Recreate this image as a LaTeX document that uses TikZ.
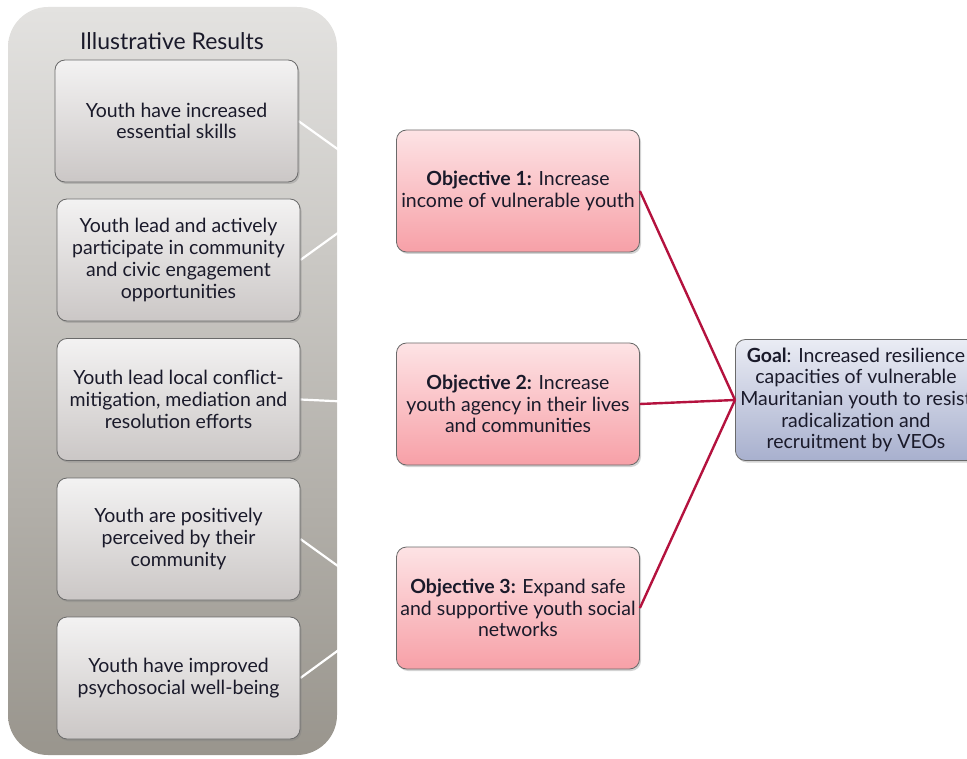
\documentclass[tikz,border=0pt]{standalone}
\usepackage{fontspec}
\setmainfont{Lato}
\usetikzlibrary{shadows,backgrounds}
\definecolor{panelTop}{HTML}{E3E2E0}
\definecolor{panelBot}{HTML}{99958D}
\definecolor{resTop}{HTML}{F3F2F2}
\definecolor{resBot}{HTML}{CBC7C6}
\definecolor{objTop}{HTML}{FDE3E5}
\definecolor{objBot}{HTML}{F7A0A7}
\definecolor{goalTop}{HTML}{EAECF4}
\definecolor{goalBot}{HTML}{A8B0CE}
\definecolor{edgeGray}{HTML}{6A6A6A}
\definecolor{linkRed}{HTML}{B4123E}
\definecolor{txt}{HTML}{1A1A2A}
\begin{document}
\begin{tikzpicture}[x=1pt,y=-1pt,
  box/.style={draw=edgeGray, line width=0.8pt, rounded corners=10pt,
    minimum width=243pt, minimum height=122pt, inner sep=3pt, align=center,
    text=txt, font=\fontsize{19.5}{21.7}\selectfont,
    drop shadow={shadow xshift=1.5pt, shadow yshift=-2pt, opacity=0.35}},
  result/.style={box, top color=resTop, bottom color=resBot},
  objective/.style={box, top color=objTop, bottom color=objBot},
  goalbox/.style={box, minimum width=240pt, minimum height=121pt, inner sep=5pt, top color=goalTop, bottom color=goalBot},
  whiteline/.style={draw=white, line width=2.2pt},
  redline/.style={draw=linkRed, line width=2.4pt}]
\useasboundingbox (0,0) rectangle (967,759);
\node[font=\fontsize{23}{26}\selectfont, text=txt] (title) at (172,41) {Illustrative Results};
\node[result] (r1) at (176.5,121) {Youth have increased\\essential skills};
\node[result] (r2) at (178.5,260) {Youth lead and actively\\participate in community\\and civic engagement\\opportunities};
\node[result] (r3) at (178.5,399.5) {Youth lead local conflict-\\mitigation, mediation and\\resolution efforts};
\node[result] (r4) at (178.5,539) {Youth are positively\\perceived by their\\community};
\node[result] (r5) at (178.5,678) {Youth have improved\\psychosocial well-being};
\node[objective] (o1) at (518,191) {\textbf{Objective 1:} Increase\\income of vulnerable youth};
\node[objective] (o2) at (518,404) {\textbf{Objective 2:} Increase\\youth agency in their lives\\and communities};
\node[objective] (o3) at (518,608) {\textbf{Objective 3:} Expand safe\\and supportive youth social\\networks};
\node[goalbox, anchor=west] (g) at (735,400) {\textbf{Goal}: Increased resilience\\capacities of vulnerable\\Mauritanian youth to resist\\radicalization and\\recruitment by VEOs};
\begin{scope}[on background layer]
  \path[rounded corners=40pt, top color=panelTop, bottom color=panelBot] (8,7) rectangle (337,755);
  \draw[whiteline] (r1.east) -- (o1.west);
  \draw[whiteline] (r2.east) -- (o1.west);
  \draw[whiteline] (r3.east) -- (o2.west);
  \draw[whiteline] (r4.east) -- (o3.west);
  \draw[whiteline] (r5.east) -- (o3.west);
\end{scope}
\draw[redline] (o1.east) -- (g.west);
\draw[redline] (o2.east) -- (g.west);
\draw[redline] (o3.east) -- (g.west);
\end{tikzpicture}
\end{document}
